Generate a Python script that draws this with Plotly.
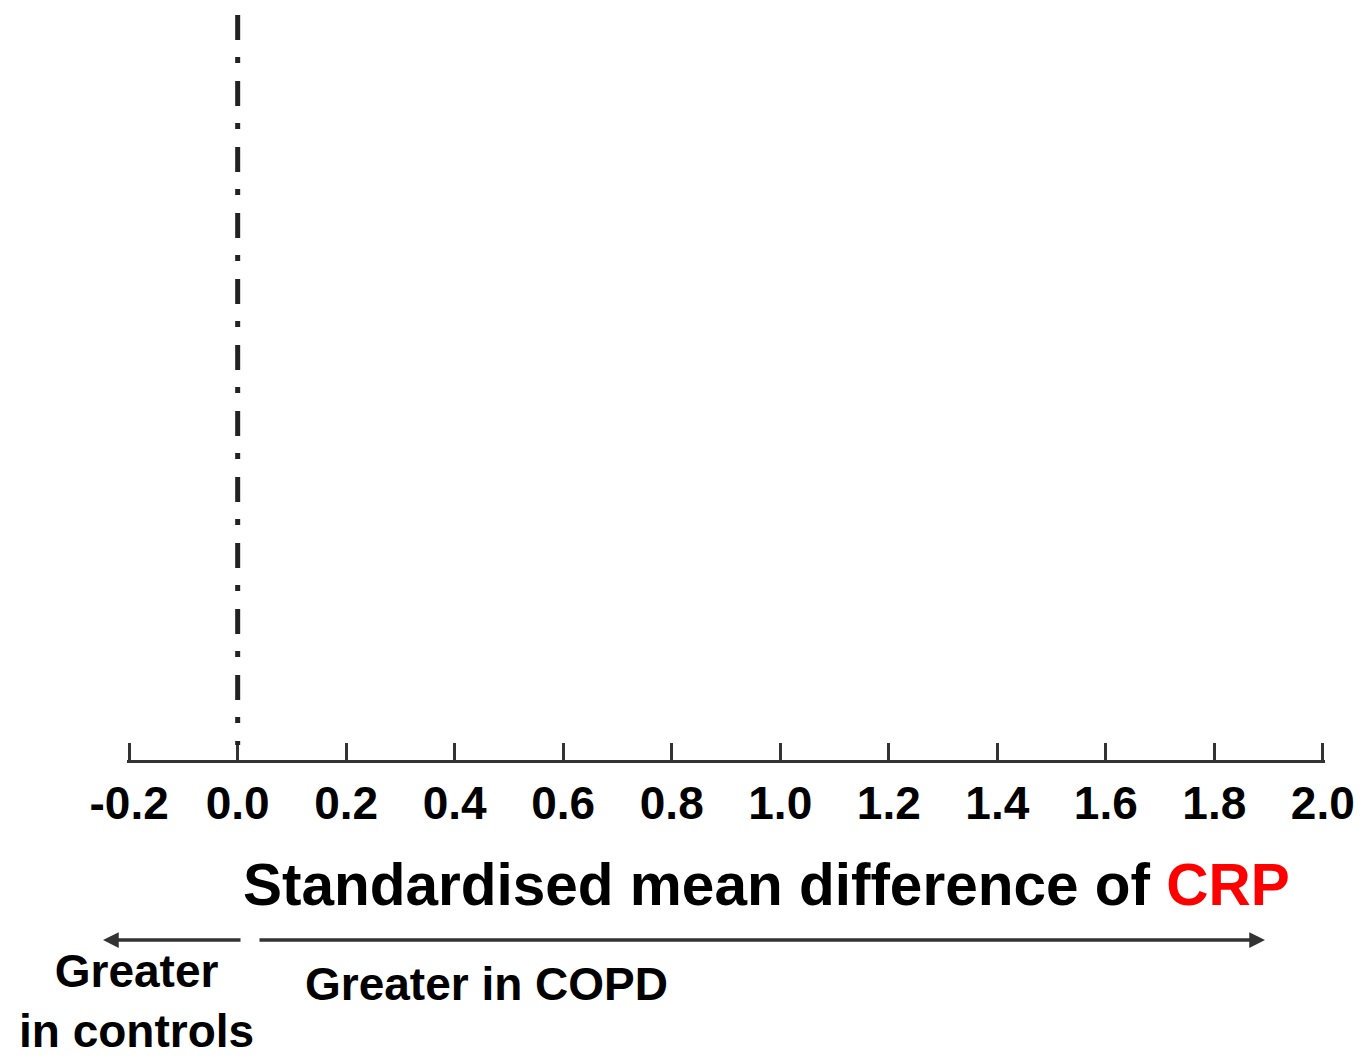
import plotly.graph_objects as go

# Axis scale and tick labels
x_range = [-0.204, 2.004]
tick_values = [-0.2, 0.0, 0.2, 0.4, 0.6, 0.8, 1.0, 1.2, 1.4, 1.6, 1.8, 2.0]
tick_labels = ["-0.2", "0.0", "0.2", "0.4", "0.6", "0.8", "1.0", "1.2", "1.4", "1.6", "1.8", "2.0"]
null_effect = 0.0

x_title = "Standardised mean difference of "
x_title_marker = "CRP"
left_label = "Greater<br>in controls"
right_label = "Greater in COPD"

W, H = 1363, 1059
M_L, M_R, M_T, M_B = 127, 38, 0, 299
PLOT_W = W - M_L - M_R
PLOT_H = H - M_T - M_B


def px_x(p):
    """pixel column -> paper x"""
    return (p - M_L) / PLOT_W


def px_y(p):
    """pixel row -> paper y"""
    return (H - M_B - p) / PLOT_H


FONT = "Liberation Sans, Arial, sans-serif"
AXIS_COLOR = "#333333"

fig = go.Figure(go.Scatter(x=[], y=[], mode="lines", showlegend=False))

# dash-dot reference line at no difference
fig.add_shape(
    type="line", xref="x", yref="paper",
    x0=null_effect, x1=null_effect, y0=px_y(15), y1=px_y(745),
    line=dict(color="#222222", width=5, dash="25px,17px,6px,18px"),
)

# axis title with the marker name highlighted
fig.add_annotation(
    xref="paper", yref="paper", x=px_x(766), y=px_y(884),
    text=f"<b>{x_title}<span style='color:#ff0000'>{x_title_marker}</span></b>",
    showarrow=False, xanchor="center", yanchor="middle",
    font=dict(family=FONT, size=58.5, color="#000000"),
)

# direction arrows
fig.add_annotation(
    xref="paper", yref="paper", x=px_x(103), y=px_y(940),
    ax=242 - 103, ay=0, text="", showarrow=True,
    arrowhead=2, arrowsize=0.9, arrowwidth=3.5, arrowcolor=AXIS_COLOR, standoff=0,
)
fig.add_annotation(
    xref="paper", yref="paper", x=px_x(1265), y=px_y(940),
    ax=258 - 1265, ay=0, text="", showarrow=True,
    arrowhead=2, arrowsize=0.9, arrowwidth=3.5, arrowcolor=AXIS_COLOR, standoff=0,
)

# direction labels
fig.add_annotation(
    xref="paper", yref="paper", x=px_x(136), y=px_y(1001),
    text=f"<b>{left_label}</b>", showarrow=False,
    xanchor="center", yanchor="middle", align="center",
    font=dict(family=FONT, size=46, color="#000000"),
)
fig.add_annotation(
    xref="paper", yref="paper", x=px_x(486), y=px_y(984),
    text=f"<b>{right_label}</b>", showarrow=False,
    xanchor="center", yanchor="middle",
    font=dict(family=FONT, size=46, color="#000000"),
)

fig.update_xaxes(
    range=x_range, tickmode="array", tickvals=tick_values, ticktext=tick_labels,
    showline=True, linewidth=3, linecolor=AXIS_COLOR,
    ticks="inside", ticklen=17, tickwidth=3, tickcolor=AXIS_COLOR,
    tickfont=dict(family=FONT, size=46, color="#000000", weight="bold"),
    ticklabelstandoff=1,
    showgrid=False, zeroline=False, fixedrange=True,
)
fig.update_yaxes(range=[0, 1], visible=False, showgrid=False, zeroline=False)

fig.update_layout(
    width=W, height=H,
    margin=dict(l=M_L, r=M_R, t=M_T, b=M_B),
    paper_bgcolor="white", plot_bgcolor="white",
    showlegend=False,
)

fig.write_html("out.html")
